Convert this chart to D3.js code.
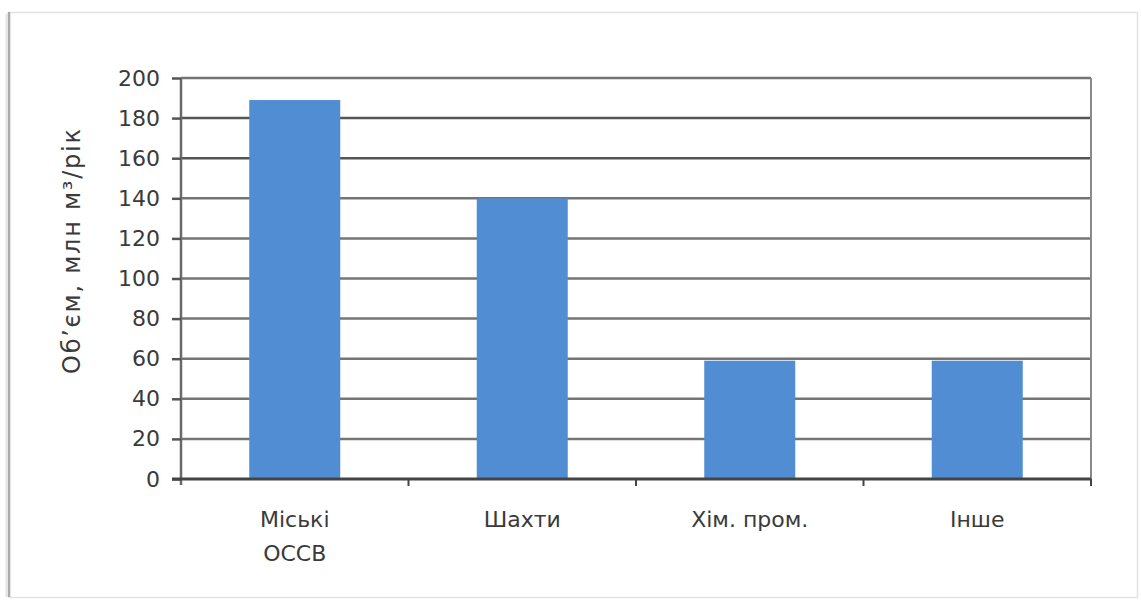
<!DOCTYPE html>
<html>
<head>
<meta charset="utf-8">
<script src="https://cdn.jsdelivr.net/npm/d3@7"></script>
<style>
  html, body { margin: 0; padding: 0; background: #fff; }
  svg { display: block; }
  text { font-family: "DejaVu Sans", sans-serif; fill: #3a3a3a; }
</style>
</head>
<body>
<svg id="chart" width="1141" height="601"></svg>
<script>
// Wastewater volume by source
const categories = [["Міські", "ОССВ"], ["Шахти"], ["Хім. пром."], ["Інше"]];
const values = [189, 140, 59, 59];
const yTicks = [0, 20, 40, 60, 80, 100, 120, 140, 160, 180, 200];
const yTitle = "Об’єм, млн м³/рік";

const svg = d3.select("#chart");
const plot = { left: 181, right: 1091, top: 78, bottom: 479 };

// outer frame with a soft shadow on the left side
svg.append("rect")
  .attr("x", 9.5).attr("y", 12.5).attr("width", 1128).attr("height", 585)
  .attr("fill", "#fff").attr("stroke", "#e2e2e2").attr("stroke-width", 1.5);
svg.append("line")
  .attr("x1", 9).attr("x2", 9).attr("y1", 12).attr("y2", 597)
  .attr("stroke", "#aaa").attr("stroke-width", 2.5);
svg.append("line")
  .attr("x1", 6.5).attr("x2", 6.5).attr("y1", 14).attr("y2", 597)
  .attr("stroke", "#e4e4e4").attr("stroke-width", 2);

const keys = categories.map(c => c.join(" "));
const x = d3.scaleBand()
  .domain(keys)
  .range([plot.left, plot.right])
  .paddingInner(0.6)
  .paddingOuter(0.3);

const y = d3.scaleLinear()
  .domain([0, 200])
  .range([plot.bottom, plot.top]);

// horizontal gridlines
svg.append("g")
  .selectAll("line")
  .data(yTicks.filter(d => d > 0))
  .join("line")
  .attr("x1", plot.left).attr("x2", plot.right)
  .attr("y1", d => y(d)).attr("y2", d => y(d))
  .attr("stroke", d => (d === 180 || d === 160) ? "#555" : "#747474")
  .attr("stroke-width", 2.5);

// right border of the plot area
svg.append("line")
  .attr("x1", plot.right).attr("x2", plot.right)
  .attr("y1", plot.top).attr("y2", plot.bottom)
  .attr("stroke", "#8a8a8a").attr("stroke-width", 2);

// bars
svg.append("g")
  .selectAll("rect")
  .data(values)
  .join("rect")
  .attr("x", (d, i) => x(keys[i]))
  .attr("width", x.bandwidth())
  .attr("y", d => y(d))
  .attr("height", d => y(0) - y(d))
  .attr("fill", "#508dd3");

// y axis
const yAxis = d3.axisLeft(y).tickValues(yTicks).tickSize(9).tickPadding(12);
const gy = svg.append("g")
  .attr("transform", `translate(${plot.left},0)`)
  .call(yAxis);
gy.select(".domain").attr("stroke", "#6a6a6a").attr("stroke-width", 2.5)
  .attr("d", `M0,${plot.top}V${plot.bottom + 6}`);
gy.selectAll(".tick line").attr("stroke", "#555").attr("stroke-width", 2.5);
gy.selectAll(".tick text")
  .style("font-family", "'DejaVu Sans', sans-serif")
  .style("font-size", "22px")
  .attr("fill", "#3a3a3a");

// x axis with ticks between categories
const boundaries = keys.slice(1).map(k => x(k) - x.step() * x.paddingInner() / 2);
const gx = svg.append("g");
gx.append("line")
  .attr("x1", plot.left - 9).attr("x2", plot.right)
  .attr("y1", plot.bottom).attr("y2", plot.bottom)
  .attr("stroke", "#444").attr("stroke-width", 3);
gx.selectAll("line.tick")
  .data(boundaries.concat([plot.right]))
  .join("line")
  .attr("class", "tick")
  .attr("x1", d => d).attr("x2", d => d)
  .attr("y1", plot.bottom).attr("y2", plot.bottom + 7)
  .attr("stroke", "#444").attr("stroke-width", 2);

// category labels
const labels = svg.append("g")
  .selectAll("text")
  .data(categories)
  .join("text")
  .attr("text-anchor", "middle")
  .style("font-size", "22px")
  .attr("x", (d, i) => x(keys[i]) + x.bandwidth() / 2)
  .attr("y", 527);
labels.selectAll("tspan")
  .data(d => d)
  .join("tspan")
  .attr("x", function () { return d3.select(this.parentNode).attr("x"); })
  .attr("dy", (d, i) => i === 0 ? 0 : 34)
  .text(d => d);

// y axis title
svg.append("text")
  .attr("transform", `translate(80,${(128 + 375) / 2}) rotate(-90)`)
  .attr("text-anchor", "middle")
  .attr("textLength", 245)
  .attr("lengthAdjust", "spacing")
  .style("font-size", "24px")
  .text(yTitle);
</script>
</body>
</html>
